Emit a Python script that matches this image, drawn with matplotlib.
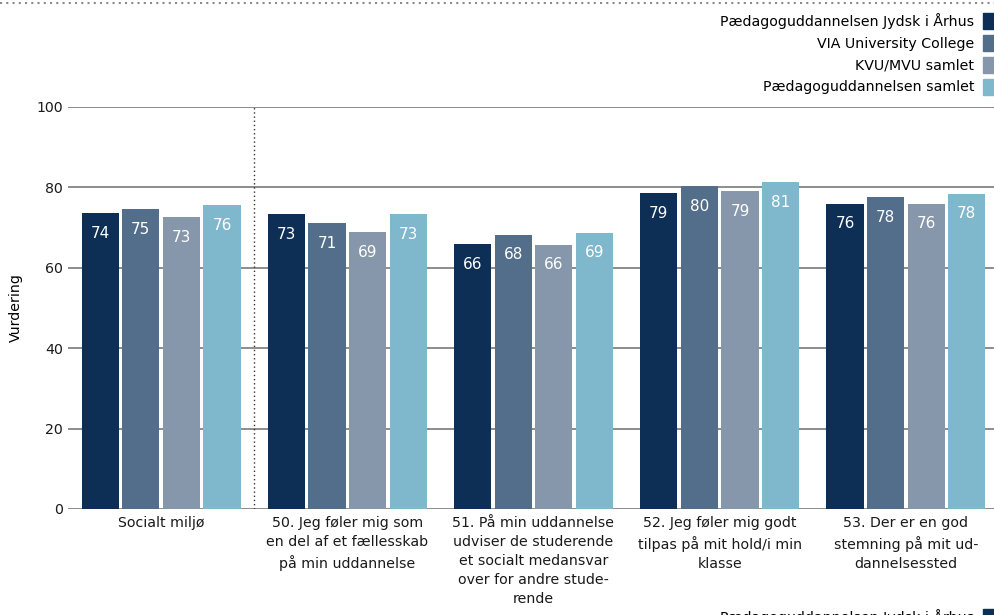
import matplotlib.pyplot as plt
import numpy as np
from matplotlib.patches import Patch, Rectangle
from matplotlib.lines import Line2D

categories = ['Socialt miljø',
              '50. Jeg føler mig som\nen del af et fællesskab\npå min uddannelse',
              '51. På min uddannelse\nudviser de studerende\net socialt medansvar\nover for andre stude-\nrende',
              '52. Jeg føler mig godt\ntilpas på mit hold/i min\nklasse',
              '53. Der er en god\nstemning på mit ud-\ndannelsessted']
series = ['Pædagoguddannelsen Jydsk i Århus', 'VIA University College',
          'KVU/MVU samlet', 'Pædagoguddannelsen samlet']
jydsk = [73.6, 73.4, 65.9, 78.6, 75.9]
via = [74.6, 71.1, 68.2, 80.3, 77.6]
kvu = [72.6, 68.9, 65.7, 79.1, 75.9]
paed = [75.6, 73.4, 68.7, 81.3, 78.4]
colors = ['#0d2f55', '#536e8a', '#8797ab', '#7fb7cc']

fig = plt.figure(figsize=(9.95, 6.15), dpi=100)
ax = fig.add_axes([68/995, 106/615, 931/995, 402/615])

x = np.arange(len(categories))
step = 0.218
width = 0.2
for i, vals in enumerate([jydsk, via, kvu, paed]):
    pos = x + (i - 1.5) * step
    ax.bar(pos, vals, width, color=colors[i], zorder=3, label=series[i])
    for p, v in zip(pos, vals):
        ax.text(p, v - 5, f'{v:.0f}', ha='center', va='center', color='white',
                fontsize=11, zorder=4)

ax.set_xlim(-0.5, 4.5)
ax.set_ylim(0, 100)
ax.set_yticks([0, 20, 40, 60, 80, 100])
ax.yaxis.grid(True, color='#8c8c8c', linewidth=1.4, zorder=0)
ax.set_axisbelow(True)
for s in ax.spines.values():
    s.set_visible(False)
ax.tick_params(length=0, labelsize=10.2, colors='#1a1a1a')
ax.tick_params(axis='x', pad=5)
ax.set_xticks(x)
ax.set_xticklabels(categories, linespacing=1.45)
ax.set_ylabel('Vurdering', fontsize=10.2, labelpad=10)
ax.axvline(0.5, color='#333333', linestyle=(0, (1, 2)), linewidth=1, zorder=2)

handles = [Patch(color=c) for c in colors]
fig.legend(handles, series, loc='upper right', bbox_to_anchor=(1.0, 0.979),
           markerfirst=False, frameon=False, handlelength=0.85, handleheight=1.35,
           labelspacing=0.42, handletextpad=0.6, borderaxespad=0, fontsize=10.2,
           borderpad=0)

fig.add_artist(Line2D([0, 1], [0.995, 0.995], transform=fig.transFigure,
                      color='#8c8c8c', linestyle=(0, (1, 2)), linewidth=1.5))
fig.text(0.9795, -0.004, series[0], ha='right', va='center', fontsize=10.2)
fig.add_artist(Rectangle((983/995, -0.02), 12/995, 18/615, transform=fig.transFigure,
                         color=colors[0]))

fig.savefig('out.png', dpi=100)
